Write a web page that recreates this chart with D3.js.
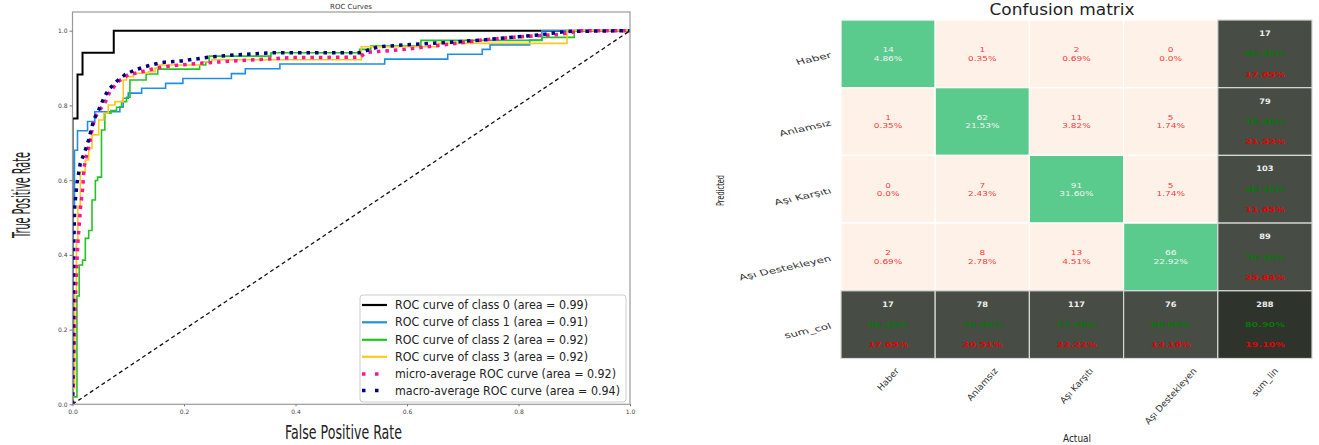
<!DOCTYPE html>
<html><head><meta charset="utf-8">
<script src="https://cdn.jsdelivr.net/npm/d3@7/dist/d3.min.js"></script>
<style>
body{margin:0;background:#fff}
svg{display:block}
text{font-family:"DejaVu Sans",sans-serif}
</style>
</head><body>
<svg id="c" width="1319" height="445"></svg>
<script>
// ---------------- ROC data ----------------
const rocLabels = ["ROC curve of class 0 (area = 0.99)","ROC curve of class 1 (area = 0.91)","ROC curve of class 2 (area = 0.92)","ROC curve of class 3 (area = 0.92)","micro-average ROC curve (area = 0.92)","macro-average ROC curve (area = 0.94)"];
const fpr0 = [0,0,0.009,0.009,0.018,0.018,0.074,0.074,1];
const tpr0 = [0,0.765,0.765,0.883,0.883,0.941,0.941,1,1];
const fpr1 = [0,0,0.0035,0.0035,0.009,0.009,0.027,0.027,0.04,0.04,0.085,0.085,0.091,0.091,0.1,0.1,0.124,0.124,0.167,0.167,0.198,0.198,0.285,0.285,0.31,0.31,0.372,0.372,0.56,0.56,0.673,0.673,0.735,0.735,0.749,0.749,0.82,0.82,0.842,0.842,1];
const tpr1 = [0,0.53,0.53,0.68,0.68,0.732,0.732,0.757,0.757,0.783,0.783,0.796,0.796,0.819,0.819,0.833,0.833,0.846,0.846,0.859,0.859,0.872,0.872,0.885,0.885,0.898,0.898,0.911,0.911,0.924,0.924,0.937,0.937,0.95,0.95,0.962,0.962,0.975,0.975,1,1];
const fpr2 = [0,0,0.008,0.008,0.012,0.012,0.018,0.018,0.023,0.023,0.029,0.029,0.035,0.035,0.041,0.041,0.045,0.045,0.052,0.052,0.058,0.058,0.069,0.069,0.079,0.079,0.088,0.088,0.097,0.097,0.103,0.103,0.132,0.132,0.153,0.153,0.228,0.228,0.239,0.239,0.245,0.245,0.356,0.356,0.515,0.515,0.535,0.535,0.625,0.625,0.842,0.842,0.9,0.9,1];
const tpr2 = [0,0.02,0.02,0.29,0.29,0.373,0.373,0.386,0.386,0.444,0.444,0.465,0.465,0.547,0.547,0.599,0.599,0.608,0.608,0.734,0.734,0.779,0.779,0.786,0.786,0.795,0.795,0.81,0.81,0.822,0.822,0.868,0.868,0.884,0.884,0.897,0.897,0.908,0.908,0.916,0.916,0.932,0.932,0.941,0.941,0.95,0.95,0.959,0.959,0.974,0.974,0.982,0.982,1,1];
const fpr3 = [0,0,0.004,0.004,0.007,0.007,0.0095,0.0095,0.014,0.014,0.023,0.023,0.029,0.029,0.035,0.035,0.047,0.047,0.056,0.056,0.064,0.064,0.076,0.076,0.091,0.091,0.097,0.097,0.109,0.109,0.136,0.136,0.148,0.148,0.154,0.154,0.232,0.232,0.25,0.25,0.518,0.518,0.656,0.656,0.887,0.887,1];
const tpr3 = [0,0.043,0.043,0.3,0.3,0.44,0.44,0.53,0.53,0.623,0.623,0.654,0.654,0.685,0.685,0.721,0.721,0.761,0.761,0.779,0.779,0.801,0.801,0.81,0.81,0.868,0.868,0.877,0.877,0.886,0.886,0.89,0.89,0.9,0.9,0.908,0.908,0.917,0.917,0.922,0.922,0.957,0.957,0.966,0.966,1,1];
const fprMicro = [0,0.002,0.004,0.006,0.0095,0.014,0.018,0.021,0.026,0.032,0.036,0.041,0.049,0.058,0.067,0.082,0.1,0.124,0.151,0.178,0.208,0.25,0.303,0.39,0.515,0.528,0.597,0.666,0.735,0.804,0.873,0.914,1];
const tprMicro = [0,0.1,0.21,0.32,0.43,0.52,0.574,0.636,0.672,0.708,0.743,0.77,0.788,0.806,0.837,0.864,0.882,0.89,0.9,0.906,0.91,0.915,0.92,0.928,0.929,0.942,0.95,0.962,0.975,0.984,0.99,1,1];
const fprMacro = [0,0.001,0.002,0.004,0.008,0.014,0.021,0.029,0.038,0.047,0.056,0.064,0.079,0.094,0.112,0.136,0.16,0.196,0.244,0.291,0.356,0.515,0.549,0.597,0.666,0.735,0.838,0.887,1];
const tprMacro = [0,0.2,0.413,0.529,0.592,0.645,0.672,0.708,0.761,0.788,0.819,0.841,0.864,0.882,0.895,0.906,0.915,0.919,0.929,0.935,0.941,0.941,0.957,0.962,0.968,0.975,0.989,0.998,1];
const rocTicks = [0,0.2,0.4,0.6,0.8,1.0];

// ---------------- Confusion matrix data ----------------
const predictedLabels = ["Haber","Anlamsız","Aşı Karşıtı","Aşı Destekleyen"];
const actualLabels = ["Haber","Anlamsız","Aşı Karşıtı","Aşı Destekleyen"];
const rowHaber = [14,1,2,0];
const rowAnlamsiz = [1,62,11,5];
const rowKarsiti = [0,7,91,5];
const rowDestekleyen = [2,8,13,66];
const cmRows = [rowHaber,rowAnlamsiz,rowKarsiti,rowDestekleyen];

const svg = d3.select("#c");

// ================= ROC panel =================
const x = d3.scaleLinear().domain([0,1]).range([72.5,630]);
const y = d3.scaleLinear().domain([0,1.05]).range([404.3,12]);
const roc = svg.append("g");
svg.append("defs").append("clipPath").attr("id","rc").append("rect")
  .attr("x",x(0)).attr("y",y(1.05)).attr("width",x(1)-x(0)).attr("height",y(0)-y(1.05));

const line = d3.line().x(d=>x(d[0])).y(d=>y(d[1]));
const zip = (a,b)=>a.map((v,i)=>[v,b[i]]);
const series = [
  {pts:zip(fpr0,tpr0), color:"#000000", w:2, dash:null},
  {pts:zip(fpr1,tpr1), color:"#1f8fe6", w:1.6, dash:null},
  {pts:zip(fpr2,tpr2), color:"#22c322", w:1.6, dash:null},
  {pts:zip(fpr3,tpr3), color:"#ffc81a", w:1.6, dash:null},
  {pts:zip(fprMicro,tprMicro), color:"#ff1493", w:3.5, dash:"3.5,5"},
  {pts:zip(fprMacro,tprMacro), color:"#000080", w:3.5, dash:"3.5,5"}
];
const cg = roc.append("g").attr("clip-path","url(#rc)");
series.forEach(s=>{
  cg.append("path").datum(s.pts).attr("d",line).attr("fill","none")
    .attr("stroke",s.color).attr("stroke-width",s.w)
    .attr("stroke-dasharray",s.dash).attr("stroke-linejoin","miter");
});
cg.append("path").datum([[0,0],[1,1]]).attr("d",line).attr("fill","none")
  .attr("stroke","#111").attr("stroke-width",1.3).attr("stroke-dasharray","4,3");

// frame
roc.append("rect").attr("x",x(0)).attr("y",y(1.05)).attr("width",x(1)-x(0)).attr("height",y(0)-y(1.05))
  .attr("fill","none").attr("stroke","#9a9a9a").attr("stroke-width",1.2);

// axes
const xa = roc.append("g").attr("transform",`translate(0,${y(0)})`)
  .call(d3.axisBottom(x).tickValues(rocTicks).tickFormat(d3.format(".1f")).tickSize(2).tickPadding(3));
const ya = roc.append("g").attr("transform",`translate(${x(0)},0)`)
  .call(d3.axisLeft(y).tickValues(rocTicks).tickFormat(d3.format(".1f")).tickSize(3).tickPadding(2));
[xa,ya].forEach(a=>{
  a.select(".domain").remove();
  a.selectAll(".tick line").attr("stroke","#777");
  a.selectAll(".tick text").attr("font-size",6).attr("fill","#444").attr("font-family","DejaVu Sans");
});

roc.append("text").attr("x",351).attr("y",7).attr("text-anchor","middle").attr("dominant-baseline","central")
  .attr("font-size",7).attr("fill","#333").text("ROC Curves");
roc.append("text").attr("x",343.5).attr("y",432).attr("text-anchor","middle").attr("dominant-baseline","central")
  .attr("font-size",20).attr("fill","#222").attr("textLength",117).attr("lengthAdjust","spacingAndGlyphs")
  .text("False Positive Rate");
roc.append("text").attr("transform","translate(22,195) rotate(-90)").attr("text-anchor","middle").attr("dominant-baseline","central")
  .attr("font-size",24).attr("fill","#222").attr("textLength",86).attr("lengthAdjust","spacingAndGlyphs")
  .text("True Positive Rate");

// legend
const lg = roc.append("g");
lg.append("rect").attr("x",360).attr("y",295).attr("width",266).attr("height",107).attr("rx",3)
  .attr("fill","#fff").attr("fill-opacity",0.9).attr("stroke","#cccccc");
const legY = [305,322.3,339.8,356.8,374,390.5];
const legW = [193,193,193,193,221,225];
series.forEach((s,i)=>{
  lg.append("line").attr("x1",362).attr("x2",387).attr("y1",legY[i]).attr("y2",legY[i])
    .attr("stroke",s.color).attr("stroke-width",s.dash? 3.5 : 2.2)
    .attr("stroke-dasharray",s.dash? "3.5,9.5":null);
  lg.append("text").attr("x",395).attr("y",legY[i]).attr("dominant-baseline","central")
    .attr("font-size",11.5).attr("fill","#222").attr("textLength",legW[i]).attr("lengthAdjust","spacingAndGlyphs")
    .text(rocLabels[i]);
});

// ================= Confusion matrix panel =================
const colKeys = [...actualLabels,"sum_lin"];
const rowKeys = [...predictedLabels,"sum_col"];
const cx = d3.scaleBand().domain(colKeys).range([841,1312]);
const cy = d3.scaleBand().domain(rowKeys).range([20,358.5]);
const total = d3.sum(cmRows.flat());
const trace = d3.sum(cmRows.map((r,i)=>r[i]));
const pct = v => v===0 ? "0.0%" : (v/total*100).toFixed(2)+"%";
const cm = svg.append("g");

const stretch = (g,xx,yy,s)=>g.attr("transform",`translate(${xx},${yy}) scale(${s},1)`);

rowKeys.forEach((rk,i)=>{
  colKeys.forEach((ck,j)=>{
    const X = cx(ck), Y = cy(rk), W = cx.bandwidth(), H = cy.bandwidth();
    const isSum = (i===4 || j===4);
    let fill;
    if (isSum) fill = (i===4 && j===4) ? "#2e332c" : "#474c45";
    else fill = (i===j) ? "#5acb8c" : "#fef2e8";
    cm.append("rect").attr("x",X).attr("y",Y).attr("width",W).attr("height",H)
      .attr("fill",fill).attr("stroke", isSum ? "#d8d8d8" : "#ffffff").attr("stroke-width",1.2);
    const mx = X + W/2, my = Y + H/2;
    if (!isSum) {
      const v = cmRows[i][j];
      const col = (i===j) ? "#f2f2f2" : "#ff3b3b";
      const t1 = cm.append("text").attr("text-anchor","middle").attr("dominant-baseline","central")
        .attr("font-size",7.5).attr("fill",col).text(v);
      stretch(t1,mx,my-4.3,1.2);
      const t2 = cm.append("text").attr("text-anchor","middle").attr("dominant-baseline","central")
        .attr("font-size",7.5).attr("fill",col).text(pct(v));
      stretch(t2,mx,my+4.2,1.2);
    } else {
      let tot, ok;
      if (i===4 && j===4) { tot = total; ok = trace; }
      else if (j===4) { tot = d3.sum(cmRows[i]); ok = cmRows[i][i]; }
      else { tot = d3.sum(cmRows.map(r=>r[j])); ok = cmRows[j][j]; }
      const okP = (ok/tot*100).toFixed(2)+"%";
      const errP = ((tot-ok)/tot*100).toFixed(2)+"%";
      const a = cm.append("text").attr("text-anchor","middle").attr("dominant-baseline","central")
        .attr("font-size",7.5).attr("font-weight","bold").attr("fill","#eeeeee").text(tot);
      stretch(a,mx,my-20.3,1.1);
      const b = cm.append("text").attr("text-anchor","middle").attr("dominant-baseline","central")
        .attr("font-size",7.5).attr("font-weight","bold").attr("fill","#0a760a").text(okP);
      stretch(b,mx,my,1.28);
      const c = cm.append("text").attr("text-anchor","middle").attr("dominant-baseline","central")
        .attr("font-size",7.5).attr("font-weight","bold").attr("fill","#e80000").text(errP);
      stretch(c,mx,my+20.2,1.28);
    }
  });
});

// y tick labels (rotated)
rowKeys.forEach(rk=>{
  const yc = cy(rk)+cy.bandwidth()/2;
  cm.append("text").attr("text-anchor","end").attr("dominant-baseline","middle")
    .attr("font-size",8).attr("fill","#333")
    .attr("transform",`translate(831,${yc+1.5}) scale(1.5,1) rotate(-18)`).text(rk);
});
// x tick labels (rotated)
colKeys.forEach(ck=>{
  const xc = cx(ck)+cx.bandwidth()/2;
  const t = cm.append("text").attr("text-anchor","middle").attr("dominant-baseline","central")
    .attr("font-size",9).attr("fill","#333").text(ck);
  const L = t.node().getComputedTextLength();
  const a = 48*Math.PI/180;
  const half = (L*Math.sin(a) + 7*Math.cos(a))/2;
  t.attr("transform",`translate(${xc},${367+half}) rotate(-48)`);
});

cm.append("text").attr("x",1062).attr("y",14.5).attr("text-anchor","middle")
  .attr("font-size",15).attr("fill","#222").attr("textLength",145).attr("lengthAdjust","spacingAndGlyphs")
  .text("Confusion matrix");
cm.append("text").attr("x",1077).attr("y",438).attr("text-anchor","middle").attr("dominant-baseline","central")
  .attr("font-size",10).attr("fill","#222").attr("textLength",28).attr("lengthAdjust","spacingAndGlyphs")
  .text("Actual");
cm.append("text").attr("transform","translate(720.5,190.5) rotate(-90)").attr("text-anchor","middle").attr("dominant-baseline","central")
  .attr("font-size",11).attr("fill","#222").attr("textLength",31).attr("lengthAdjust","spacingAndGlyphs")
  .text("Predicted");
</script>
</body></html>
